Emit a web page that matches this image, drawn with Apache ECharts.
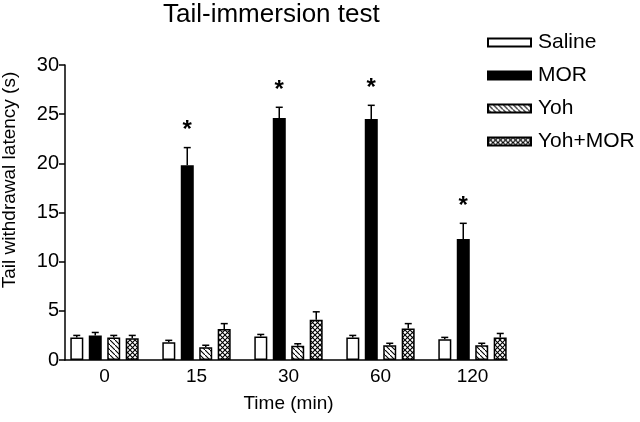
<!DOCTYPE html>
<html>
<head>
<meta charset="utf-8">
<script src="https://cdn.jsdelivr.net/npm/echarts@6/dist/echarts.min.js"></script>
<style>
  html, body { margin: 0; padding: 0; background: #fff; }
  #chart { width: 640px; height: 422px; }
</style>
</head>
<body>
<div id="chart"></div>
<script>
// data
const categories = ["0", "15", "30", "60", "120"];
const saline = [2.3, 1.8, 2.4, 2.3, 2.1];
const salineErr = [0.2, 0.2, 0.2, 0.2, 0.2];
const mor = [2.5, 19.8, 24.6, 24.5, 12.3];
const morErr = [0.3, 1.8, 1.1, 1.4, 1.6];
const yoh = [2.3, 1.3, 1.45, 1.5, 1.5];
const yohErr = [0.2, 0.2, 0.2, 0.2, 0.2];
const yohMor = [2.2, 3.15, 4.1, 3.2, 2.3];
const yohMorErr = [0.3, 0.55, 0.8, 0.5, 0.4];
const significant = [false, true, true, true, true];
const yTicks = [0, 5, 10, 15, 20, 25, 30];

const FONT = "Liberation Sans, Arial, sans-serif";

// hatch fills
const makePattern = cross => {
  const c = document.createElement("canvas");
  c.width = 5;
  c.height = 5;
  const ctx = c.getContext("2d");
  ctx.fillStyle = "#fff";
  ctx.fillRect(0, 0, 5, 5);
  ctx.strokeStyle = "#000";
  ctx.lineWidth = 1.1;
  ctx.beginPath();
  ctx.moveTo(-1, -1);
  ctx.lineTo(6, 6);
  if (cross) {
    ctx.moveTo(6, -1);
    ctx.lineTo(-1, 6);
  }
  ctx.stroke();
  return { image: c, repeat: "repeat" };
};

const barWidth = 13;
const barStep = 18.5; // centre to centre inside a group
const offsets = [-1.5, -0.5, 0.5, 1.5].map(k => k * barStep);

const barSeries = (name, values, fill) => ({
  name,
  type: "bar",
  data: values,
  barWidth: barWidth,
  barGap: "42%",
  itemStyle: { color: fill, borderColor: "#000", borderWidth: 1.5 },
  z: 2
});

// error bars (and asterisks on MOR)
const errSeries = (values, errs, k, stars) => ({
  type: "custom",
  data: values.map((v, i) => [i, v, errs[i]]),
  encode: { x: 0, y: 1 },
  z: 3,
  silent: true,
  renderItem: (params, api) => {
    const i = api.value(0);
    const base = api.coord([i, api.value(1)]);
    const top = api.coord([i, api.value(1) + api.value(2)]);
    const x = base[0] + offsets[k];
    const children = [
      { type: "line", shape: { x1: x, y1: base[1], x2: x, y2: top[1] }, style: { stroke: "#000", lineWidth: 1.5 } },
      { type: "line", shape: { x1: x - 3.5, y1: top[1], x2: x + 3.5, y2: top[1] }, style: { stroke: "#000", lineWidth: 1.5 } }
    ];
    if (stars && stars[i]) {
      children.push({
        type: "text",
        x: x,
        y: top[1] - 17,
        style: { text: "*", font: "bold 24px " + FONT, fill: "#000", textAlign: "center", textVerticalAlign: "middle" }
      });
    }
    return { type: "group", children };
  }
});

const chart = echarts.init(document.getElementById("chart"));

chart.setOption({
  animation: false,
  backgroundColor: "#fff",
  title: {
    text: "Tail-immersion test",
    left: 158,
    top: -3,
    textStyle: { fontFamily: FONT, fontSize: 26, fontWeight: "normal", color: "#000" }
  },
  legend: {
    orient: "vertical",
    left: 487,
    top: 32,
    padding: 0,
    itemWidth: 43,
    itemHeight: 8,
    itemGap: 12,
    icon: "rect",
    data: ["Saline", "MOR", "Yoh", "Yoh+MOR"],
    textStyle: { fontFamily: FONT, fontSize: 21, color: "#000", padding: [0, 0, 0, 2] }
  },
  grid: [
    { left: 58.5, width: 460, top: 65, height: 295 },
    { left: 65, width: 442, top: 65, height: 295 }
  ],
  xAxis: [
    {
      type: "category",
      gridIndex: 0,
      data: categories,
      name: "Time (min)",
      nameLocation: "middle",
      nameGap: 34,
      nameTextStyle: { fontFamily: FONT, fontSize: 19, color: "#000" },
      axisLine: { show: false },
      axisTick: { show: false },
      axisLabel: { fontFamily: FONT, fontSize: 19, color: "#000", margin: 7 }
    },
    {
      // bottom axis line, shorter than the category band
      type: "value",
      gridIndex: 1,
      min: 0,
      max: 1,
      axisLine: { show: true, lineStyle: { color: "#000", width: 1.5 } },
      axisTick: { show: false },
      axisLabel: { show: false },
      splitLine: { show: false }
    }
  ],
  yAxis: [
    {
      type: "value",
      gridIndex: 0,
      min: yTicks[0],
      max: yTicks[yTicks.length - 1],
      interval: 5,
      offset: -6.5,
      axisLine: { show: true, lineStyle: { color: "#000", width: 1.5 } },
      axisTick: { show: true, length: 6, lineStyle: { color: "#000", width: 1.5 } },
      axisLabel: { fontFamily: FONT, fontSize: 20, color: "#000", margin: 6 },
      splitLine: { show: false }
    },
    { type: "value", gridIndex: 1, show: false, min: 0, max: 1 }
  ],
  graphic: [
    {
      type: "text",
      x: 10,
      y: 180,
      rotation: Math.PI / 2,
      style: {
        text: "Tail withdrawal latency (s)",
        font: "19px " + FONT,
        fill: "#000",
        textAlign: "center",
        textVerticalAlign: "middle"
      }
    }
  ],
  series: [
    barSeries("Saline", saline, "#fff"),
    barSeries("MOR", mor, "#000"),
    barSeries("Yoh", yoh, makePattern(false)),
    barSeries("Yoh+MOR", yohMor, makePattern(true)),
    errSeries(saline, salineErr, 0),
    errSeries(mor, morErr, 1, significant),
    errSeries(yoh, yohErr, 2),
    errSeries(yohMor, yohMorErr, 3)
  ]
});
</script>
</body>
</html>
